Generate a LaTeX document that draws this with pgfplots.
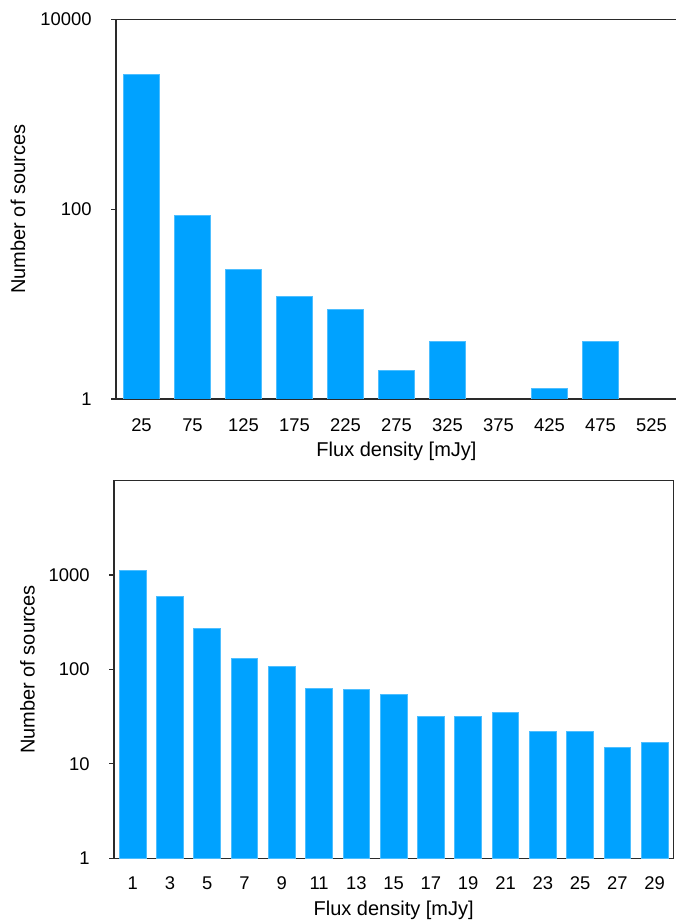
\documentclass[border=0pt]{standalone}
\usepackage{pgfplots}
\pgfplotsset{compat=1.18}
\usepackage{fontspec}
\setmainfont{Liberation Sans}
\definecolor{barblue}{HTML}{00A2FF}
\definecolor{baredge}{HTML}{4DBEFF}
\definecolor{axisgray}{HTML}{2A2A2A}
\pgfplotsset{
  mypanel/.style={
    scale only axis,
    ymin=1,
    ymax=10000,
    axis line style={axisgray, line width=0.7pt},
    tick align=outside,
    major tick length=2.5pt,
    ytick style={axisgray, line width=0.6pt},
    xtick style={draw=none},
    ytick pos=left,
    xtick pos=bottom,
    yminorticks=false,
    tick label style={font=\fontsize{9.2}{11}\selectfont, text=black},
    label style={font=\fontsize{9.8}{12}\selectfont, text=black},
    yticklabel style={anchor=east, inner sep=0pt, xshift=-9.5pt},
    xticklabel style={anchor=base, inner sep=0pt},
    every axis y label/.style={at={(axis description cs:0,0.5)}, rotate=90, anchor=center},
    every axis x label/.style={at={(axis description cs:0.5,0)}, anchor=base},
    ylabel={Number of sources},
    xlabel={Flux density [mJy]},
  },
  /pgf/number format/assume math mode=true,
}
\begin{document}
\begin{tikzpicture}
\useasboundingbox (0,0) rectangle (337.5pt,460.5pt);
% Top panel (right edge falls just outside the picture, as in the reference)
\begin{semilogyaxis}[mypanel, ybar,
  at={(58pt,261pt)}, anchor=south west,
  width=280.5pt, height=189.75pt,
  xmin=0, xmax=550,
  bar width=35.3,
  xtick={25,75,125,175,225,275,325,375,425,475,525},
  ytick={1,100,10000},
  yticklabels={1,100,10000},
  xticklabel style={yshift=-13.8pt},
  x label style={yshift=-29pt},
  y label style={yshift=49pt},
]
\addplot[fill=barblue, draw=baredge, line width=0.4pt] coordinates {
  (25,2610) (75,86) (125,23) (175,12) (225,8.8) (275,2) (325,4) (425,1.3) (475,4)
};
\end{semilogyaxis}
% Bottom panel
\begin{semilogyaxis}[mypanel, ybar,
  at={(57pt,31.35pt)}, anchor=south west,
  width=279.65pt, height=188.8pt,
  xmin=0, xmax=30,
  bar width=1.43,
  xtick={1,3,...,29},
  ytick={1,10,100,1000},
  yticklabels={1,10,100,1000},
  xticklabel style={yshift=-13.3pt},
  x label style={yshift=-28.4pt},
  y label style={yshift=43.25pt},
]
\addplot[fill=barblue, draw=baredge, line width=0.4pt] coordinates {
  (1,1125) (3,600) (5,275) (7,131) (9,107) (11,63) (13,62) (15,55) (17,32) (19,32) (21,35) (23,22) (25,22) (27,15) (29,17)
};
\end{semilogyaxis}
\end{tikzpicture}
\end{document}
